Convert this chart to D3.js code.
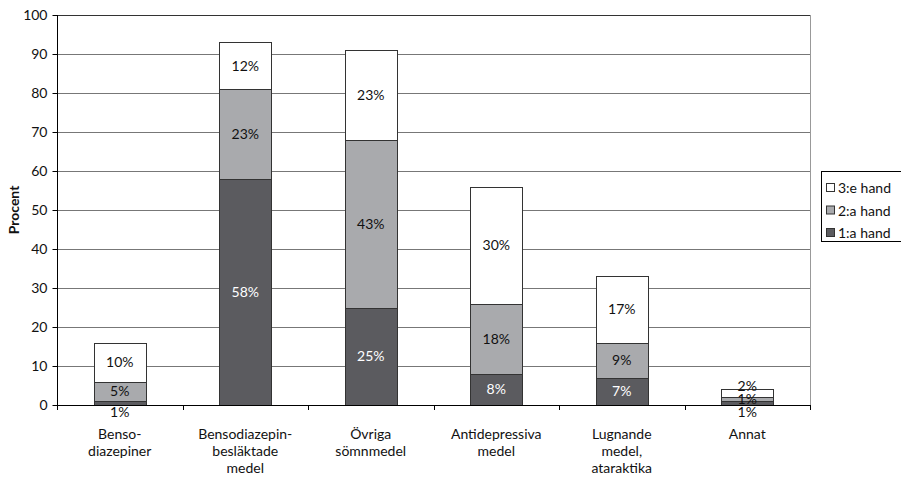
<!DOCTYPE html>
<html>
<head>
<meta charset="utf-8">
<script src="https://cdn.jsdelivr.net/npm/d3@7"></script>
<style>
  html, body { margin: 0; padding: 0; background: #fff; }
  svg { display: block; font-family: Lato, "Open Sans", sans-serif; }
</style>
</head>
<body>
<svg id="chart" width="901" height="477"></svg>
<script>
// Categories (multi-line labels) and stacked shares per hand
const categories = [
  ["Benso-", "diazepiner"],
  ["Bensodiazepin-", "besläktade", "medel"],
  ["Övriga", "sömnmedel"],
  ["Antidepressiva", "medel"],
  ["Lugnande", "medel,", "ataraktika"],
  ["Annat"]
];
const hand1 = [1, 58, 25, 8, 7, 1];
const hand2 = [5, 23, 43, 18, 9, 1];
const hand3 = [10, 12, 23, 30, 17, 2];
const seriesNames = ["1:a hand", "2:a hand", "3:e hand"];
const seriesColors = ["#5b5b5f", "#a9aaad", "#ffffff"];
const yTicks = [0, 10, 20, 30, 40, 50, 60, 70, 80, 90, 100];

const svg = d3.select("#chart");
const plotLeft = 57, plotRight = 810, plotTop = 15, plotBottom = 405;
const fs = 14;

const x = d3.scaleBand().domain(d3.range(categories.length)).range([plotLeft, plotRight]).paddingInner(0.586).paddingOuter(0.293);
const y = d3.scaleLinear().domain([0, 100]).range([plotBottom, plotTop]);

// Gridlines
svg.append("g").selectAll("line").data(yTicks.filter(t => t > 0)).join("line")
  .attr("x1", plotLeft).attr("x2", plotRight)
  .attr("y1", d => y(d) + 0.5).attr("y2", d => y(d) + 0.5)
  .attr("stroke", d => d === 100 ? "#333" : "#777").attr("stroke-width", 1);

// Right border of the plot area
svg.append("line").attr("x1", plotRight + 0.5).attr("x2", plotRight + 0.5)
  .attr("y1", plotTop).attr("y2", plotBottom).attr("stroke", "#999");

// Stacked data
const rows = categories.map((c, i) => ({ i, h1: hand1[i], h2: hand2[i], h3: hand3[i] }));
const stack = d3.stack().keys(["h1", "h2", "h3"])(rows);

const gBars = svg.append("g");
stack.forEach((layer, k) => {
  gBars.selectAll(null).data(layer).join("rect")
    .attr("x", d => Math.round(x(d.data.i)) + 0.5)
    .attr("width", Math.round(x.bandwidth()))
    .attr("y", d => Math.round(y(d[1])) + 0.5)
    .attr("height", d => Math.round(y(d[0])) - Math.round(y(d[1])))
    .attr("fill", seriesColors[k])
    .attr("stroke", "#333").attr("stroke-width", 1);
});

// Value labels; small bottom segments go below the axis, crowded ones move up
const gLab = svg.append("g").attr("font-size", fs).attr("text-anchor", "middle");
rows.forEach((r, i) => {
  let prev = null;
  stack.forEach((layer, k) => {
    const d = layer[i];
    const v = d[1] - d[0];
    let cy = (y(d[0]) + y(d[1])) / 2;
    let outside = false;
    if (k === 0 && y(d[0]) - y(d[1]) < 12) { cy = plotBottom + 7; outside = true; }
    if (prev !== null && cy > prev - 13) cy = prev - 13;
    prev = cy;
    gLab.append("text")
      .attr("x", x(i) + x.bandwidth() / 2)
      .attr("y", cy)
      .attr("dy", "0.36em")
      .attr("fill", k === 0 && !outside ? "#fff" : "#111")
      .text(v + "%");
  });
});

// Y axis
const yAxis = svg.append("g").attr("transform", `translate(${plotLeft + 0.5},0)`)
  .call(d3.axisLeft(y).tickValues(yTicks).tickSize(5).tickPadding(5));
yAxis.select(".domain").attr("stroke", "#000").attr("d", `M0,${plotTop}V${plotBottom}`);
yAxis.selectAll(".tick line").attr("stroke", "#000");
yAxis.selectAll(".tick text").attr("font-size", fs).attr("fill", "#111").attr("font-family", "Lato, 'Open Sans', sans-serif");

// X axis with ticks between categories
const xAxis = svg.append("g");
xAxis.append("line").attr("x1", plotLeft).attr("x2", plotRight + 1)
  .attr("y1", plotBottom + 0.5).attr("y2", plotBottom + 0.5).attr("stroke", "#000");
const step = x.step();
xAxis.selectAll(".tk").data(d3.range(categories.length + 1)).join("line")
  .attr("x1", d => Math.round(plotLeft + d * step) + 0.5).attr("x2", d => Math.round(plotLeft + d * step) + 0.5)
  .attr("y1", plotBottom).attr("y2", plotBottom + 5).attr("stroke", "#000");

const xl = svg.append("g").attr("font-size", fs).attr("fill", "#111").attr("text-anchor", "middle");
categories.forEach((lines, i) => {
  const t = xl.append("text").attr("x", x(i) + x.bandwidth() / 2).attr("y", 439);
  lines.forEach((s, j) => t.append("tspan").attr("x", x(i) + x.bandwidth() / 2).attr("dy", j === 0 ? 0 : 17).text(s));
});

// Y axis title
svg.append("text").attr("transform", "translate(19,210) rotate(-90)")
  .attr("text-anchor", "middle").attr("font-size", fs).attr("font-weight", "bold").attr("fill", "#111")
  .text("Procent");

// Legend
const lg = svg.append("g");
lg.append("rect").attr("x", 821.5).attr("y", 171.5).attr("width", 86).attr("height", 70)
  .attr("fill", "#fff").attr("stroke", "#000");
const legendOrder = [2, 1, 0];
legendOrder.forEach((k, j) => {
  const cy = 188 + j * 22.5;
  lg.append("rect").attr("x", 826.5).attr("y", cy - 4.5).attr("width", 8).attr("height", 8)
    .attr("fill", seriesColors[k]).attr("stroke", "#333");
  lg.append("text").attr("x", 838).attr("y", cy).attr("dy", "0.36em")
    .attr("font-size", fs).attr("fill", "#111").text(seriesNames[k]);
});
</script>
</body>
</html>
